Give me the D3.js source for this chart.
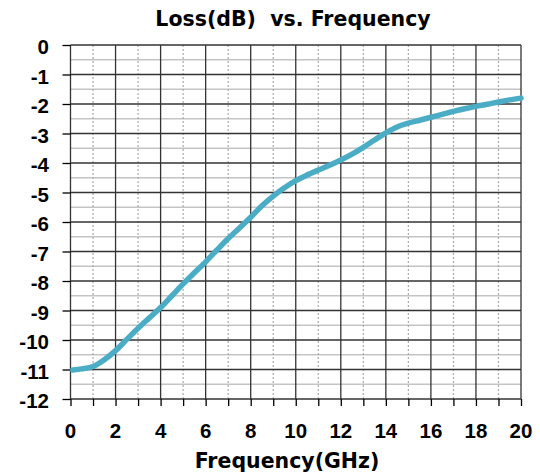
<!DOCTYPE html>
<html>
<head>
<meta charset="utf-8">
<script src="https://cdn.jsdelivr.net/npm/d3@7"></script>
<style>
  body { margin: 0; background: #fff; }
  svg { display: block; }
</style>
</head>
<body>
<div id="chart"></div>
<script>
// values
const freq = [0.1, 0.5, 1, 1.5, 2, 2.5, 3, 3.5, 4, 4.5, 5, 5.5, 6, 6.5, 7, 7.5, 8, 8.5, 9, 9.5,
              10, 10.5, 11, 11.5, 12, 12.5, 13, 13.5, 14, 14.5, 15, 15.5, 16, 16.5, 17, 17.5, 18, 18.5, 19, 19.5, 20]
const loss = [-11.02, -10.98, -10.9, -10.67, -10.36, -9.98, -9.6, -9.25, -8.9, -8.5, -8.1, -7.72, -7.35, -6.95, -6.56, -6.2, -5.84, -5.45, -5.12, -4.84,
              -4.6, -4.41, -4.24, -4.08, -3.9, -3.7, -3.47, -3.22, -2.98, -2.78, -2.65, -2.55, -2.45, -2.35, -2.25, -2.16, -2.08, -2.01, -1.93, -1.86, -1.8]
const xTicks = [0, 2, 4, 6, 8, 10, 12, 14, 16, 18, 20]
const yTicks = [0, -1, -2, -3, -4, -5, -6, -7, -8, -9, -10, -11, -12]

const width = 540
const height = 473
const margin = { top: 45, right: 19, bottom: 74, left: 70.5 }
const innerW = width - margin.left - margin.right
const innerH = height - margin.top - margin.bottom

const svg = d3.select("div#chart").append("svg")
    .attr("width", width)
    .attr("height", height)

const x = d3.scaleLinear().domain([0, 20]).range([0, innerW])
const y = d3.scaleLinear().domain([-12, 0]).range([innerH, 0])

const plot = svg.append("g")
    .attr("transform", `translate(${margin.left}, ${margin.top})`)

// minor horizontal grid (every 0.5 dB)
plot.append("g").selectAll("line")
    .data(d3.range(-11.5, 0, 1))
    .enter().append("line")
    .attr("x1", 0).attr("x2", innerW)
    .attr("y1", d => y(d)).attr("y2", d => y(d))
    .attr("stroke", "#c4c4c4").attr("stroke-width", 1.3)

// minor vertical grid, dotted (odd GHz)
plot.append("g").selectAll("line")
    .data(d3.range(1, 20, 2))
    .enter().append("line")
    .attr("y1", 0).attr("y2", innerH)
    .attr("x1", d => x(d)).attr("x2", d => x(d))
    .attr("stroke", "#aaa").attr("stroke-width", 1.2)
    .attr("stroke-dasharray", "2,2")

// major grid
plot.append("g").selectAll("line")
    .data(yTicks)
    .enter().append("line")
    .attr("x1", 0).attr("x2", innerW)
    .attr("y1", d => y(d)).attr("y2", d => y(d))
    .attr("stroke", "#333").attr("stroke-width", 1.3)
plot.append("g").selectAll("line")
    .data(xTicks)
    .enter().append("line")
    .attr("y1", 0).attr("y2", innerH)
    .attr("x1", d => x(d)).attr("x2", d => x(d))
    .attr("stroke", "#333").attr("stroke-width", 1.3)

// axes
const xAxis = d3.axisBottom(x).tickValues(d3.range(0, 21, 1)).tickSize(7).tickFormat("")
const yAxis = d3.axisLeft(y).tickValues(yTicks).tickSize(8).tickFormat("")

const xAxisGroup = plot.append("g").attr("transform", `translate(0, ${innerH})`).call(xAxis)
const yAxisGroup = plot.append("g").call(yAxis)
;[xAxisGroup, yAxisGroup].forEach(g => {
    g.select(".domain").remove()
    g.selectAll(".tick line").attr("stroke", "#000").attr("stroke-width", 1.3)
})

plot.append("g").selectAll("text")
    .data(xTicks)
    .enter().append("text")
    .attr("x", d => x(d))
    .attr("y", innerH + 39)
    .attr("text-anchor", "middle")
    .attr("font-family", "Liberation Sans, Arial, sans-serif")
    .attr("font-weight", "bold")
    .attr("font-size", 20.5)
    .text(d => d)

plot.append("g").selectAll("text")
    .data(yTicks)
    .enter().append("text")
    .attr("x", -21.5)
    .attr("y", d => y(d) + 9)
    .attr("text-anchor", "end")
    .attr("font-family", "Liberation Sans, Arial, sans-serif")
    .attr("font-weight", "bold")
    .attr("font-size", 20.5)
    .text(d => d)

// curve
const data = freq.map((f, i) => ({ f: f, v: loss[i] }))
const line = d3.line().x(d => x(d.f)).y(d => y(d.v)).curve(d3.curveMonotoneX)

plot.append("path")
    .datum(data)
    .attr("fill", "none")
    .attr("stroke", "#4bacc6")
    .attr("stroke-width", 5.5)
    .attr("stroke-linecap", "round")
    .attr("d", line)

// titles
svg.append("text")
    .attr("x", 293)
    .attr("y", 26)
    .attr("text-anchor", "middle")
    .attr("font-family", "DejaVu Sans, Verdana, sans-serif")
    .attr("font-weight", "bold")
    .attr("font-size", 20.5)
    .attr("xml:space", "preserve")
    .text("Loss(dB)  vs. Frequency")

svg.append("text")
    .attr("x", 287)
    .attr("y", 468)
    .attr("text-anchor", "middle")
    .attr("font-family", "DejaVu Sans, Verdana, sans-serif")
    .attr("font-weight", "bold")
    .attr("font-size", 20.5)
    .text("Frequency(GHz)")
</script>
</body>
</html>
